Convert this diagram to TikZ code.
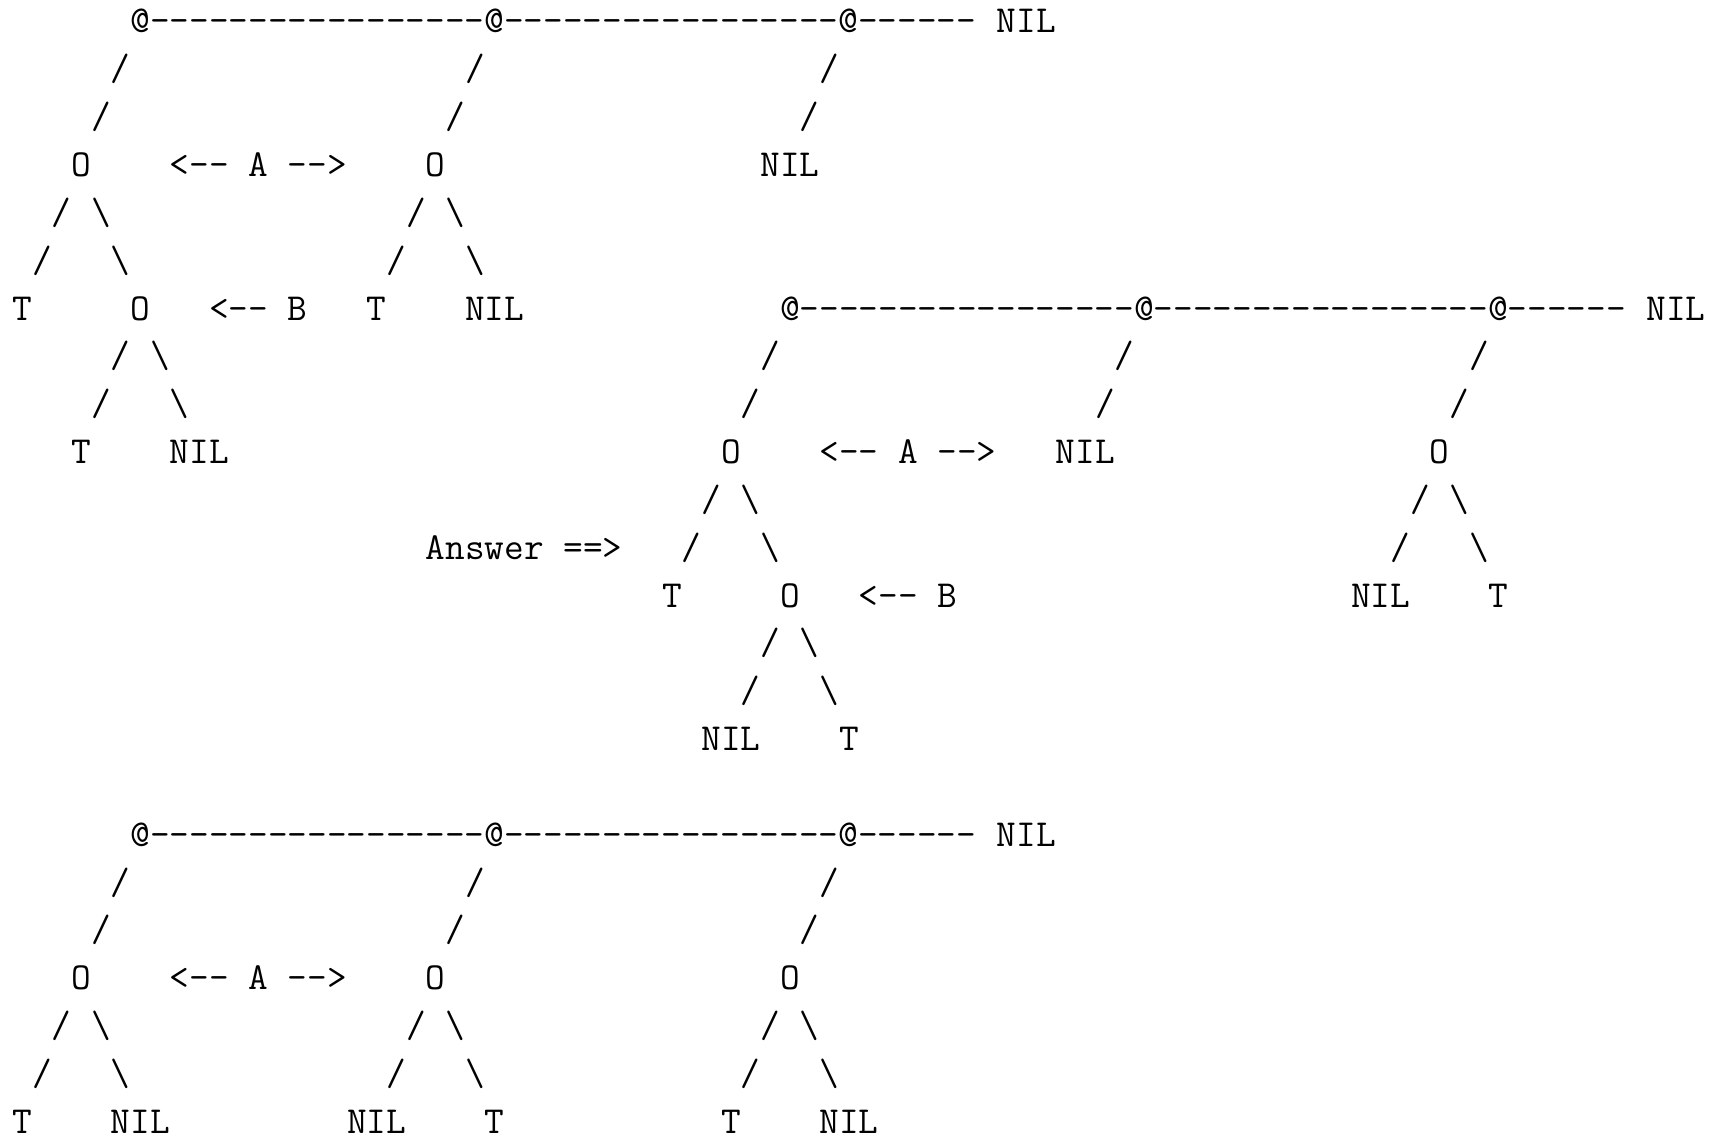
\documentclass[tikz,border=0pt]{standalone}
% runs of hyphens, kept apart so no en-dash ligature forms
\ExplSyntaxOn
\NewDocumentCommand\dashes{m}{\prg_replicate:nn{#1}{-\kern0pt}}
\ExplSyntaxOff
\newcommand\bs{\textbackslash}
\newcommand\larr{<\dashes{2}}
\newcommand\rarr{\dashes{2}>}
% character grid: column width 9.84375pt, line pitch 23.92pt
\newcommand\ch[3]{\node[glyph] (r#1c#2) at ({6.17pt+#2*9.84375pt},{-16.5pt-#1*23.92pt}) {#3};}
% a three-cell backbone
\newcommand\spine[2]{%
  \ch{#1}{#2}{@\dashes{17}@\dashes{17}@\dashes{6}}%
}
% the 12pt typewriter design is 0.515625em per character
\tikzset{glyph/.style={anchor=base west, inner sep=0pt, outer sep=0pt,
  font=\fontsize{19.0909}{22}\selectfont\ttfamily}}
\begin{document}
\begin{tikzpicture}
\useasboundingbox (0,0) rectangle (860pt,-569pt);
% first list
\spine{0}{6} \ch{0}{50}{NIL}
\ch{1}{5}{/} \ch{1}{23}{/} \ch{1}{41}{/}
\ch{2}{4}{/} \ch{2}{22}{/} \ch{2}{40}{/}
\ch{3}{3}{O} \ch{3}{8}{\larr} \ch{3}{12}{A} \ch{3}{14}{\rarr} \ch{3}{21}{O} \ch{3}{38}{NIL}
\ch{4}{2}{/} \ch{4}{4}{\bs} \ch{4}{20}{/} \ch{4}{22}{\bs}
\ch{5}{1}{/} \ch{5}{5}{\bs} \ch{5}{19}{/} \ch{5}{23}{\bs}
\ch{6}{0}{T} \ch{6}{6}{O} \ch{6}{10}{\larr} \ch{6}{14}{B} \ch{6}{18}{T} \ch{6}{23}{NIL}
\ch{7}{5}{/} \ch{7}{7}{\bs}
\ch{8}{4}{/} \ch{8}{8}{\bs}
\ch{9}{3}{T} \ch{9}{8}{NIL}
% answer list
\spine{6}{39} \ch{6}{83}{NIL}
\ch{7}{38}{/} \ch{7}{56}{/} \ch{7}{74}{/}
\ch{8}{37}{/} \ch{8}{55}{/} \ch{8}{73}{/}
\ch{9}{36}{O} \ch{9}{41}{\larr} \ch{9}{45}{A} \ch{9}{47}{\rarr} \ch{9}{53}{NIL} \ch{9}{72}{O}
\ch{10}{35}{/} \ch{10}{37}{\bs} \ch{10}{71}{/} \ch{10}{73}{\bs}
\ch{11}{21}{Answer} \ch{11}{28}{==>} \ch{11}{34}{/} \ch{11}{38}{\bs} \ch{11}{70}{/} \ch{11}{74}{\bs}
\ch{12}{33}{T} \ch{12}{39}{O} \ch{12}{43}{\larr} \ch{12}{47}{B} \ch{12}{68}{NIL} \ch{12}{75}{T}
\ch{13}{38}{/} \ch{13}{40}{\bs}
\ch{14}{37}{/} \ch{14}{41}{\bs}
\ch{15}{35}{NIL} \ch{15}{42}{T}
% third list
\spine{17}{6} \ch{17}{50}{NIL}
\ch{18}{5}{/} \ch{18}{23}{/} \ch{18}{41}{/}
\ch{19}{4}{/} \ch{19}{22}{/} \ch{19}{40}{/}
\ch{20}{3}{O} \ch{20}{8}{\larr} \ch{20}{12}{A} \ch{20}{14}{\rarr} \ch{20}{21}{O} \ch{20}{39}{O}
\ch{21}{2}{/} \ch{21}{4}{\bs} \ch{21}{20}{/} \ch{21}{22}{\bs} \ch{21}{38}{/} \ch{21}{40}{\bs}
\ch{22}{1}{/} \ch{22}{5}{\bs} \ch{22}{19}{/} \ch{22}{23}{\bs} \ch{22}{37}{/} \ch{22}{41}{\bs}
\ch{23}{0}{T} \ch{23}{5}{NIL} \ch{23}{17}{NIL} \ch{23}{24}{T} \ch{23}{36}{T} \ch{23}{41}{NIL}
\end{tikzpicture}
\end{document}
